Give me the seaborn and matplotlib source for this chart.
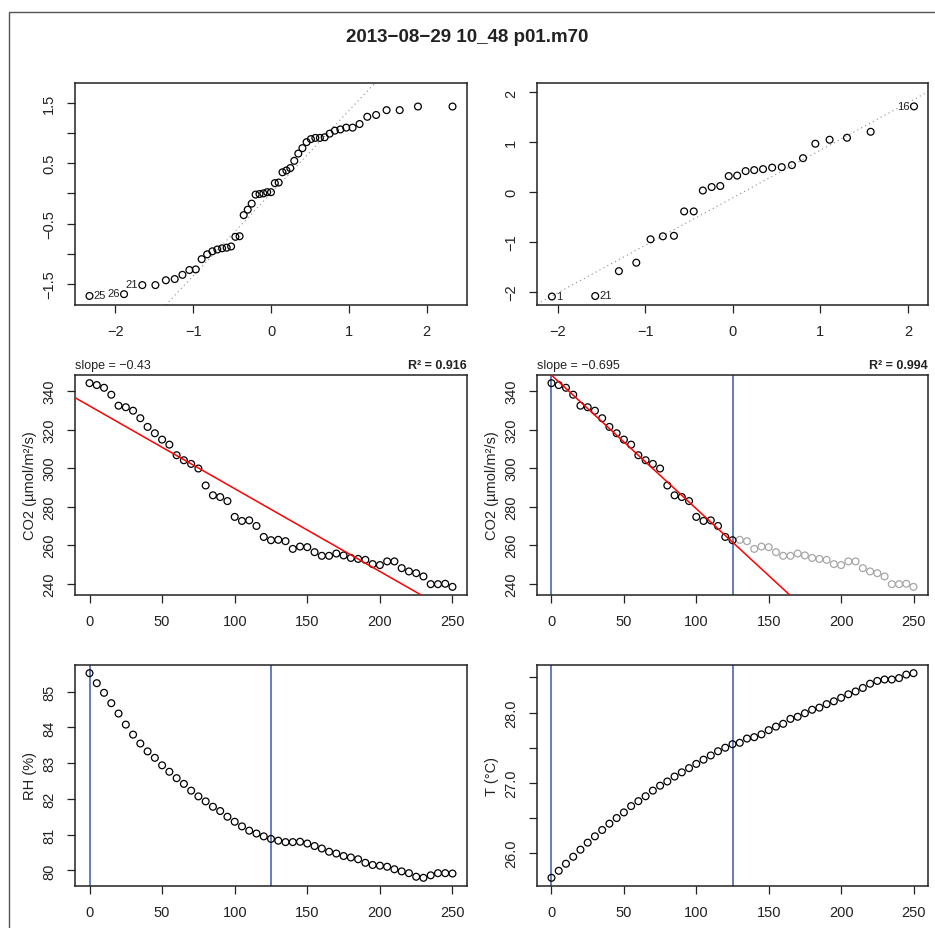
import numpy as np
import pandas as pd
import matplotlib
matplotlib.use("Agg")
import matplotlib.pyplot as plt
import seaborn as sns
from statistics import NormalDist
from matplotlib.patches import Rectangle

# ---------------- data ----------------
title = "2013\u221208\u221229 10_48 p01.m70"

time_s = [0, 5, 10, 15, 20, 25, 30, 35, 40, 45, 50, 55, 60, 65, 70, 75, 80, 85, 90, 95,
          100, 105, 110, 115, 120, 125, 130, 135, 140, 145, 150, 155, 160, 165, 170, 175,
          180, 185, 190, 195, 200, 205, 210, 215, 220, 225, 230, 235, 240, 245, 250]

co2 = [344.1, 343.1, 341.7, 338.1, 332.4, 331.6, 329.8, 325.9, 321.4, 318.1,
       314.8, 312.2, 306.7, 304.1, 302.2, 299.8, 291.0, 285.9, 285.0, 282.9,
       274.7, 272.6, 272.9, 270.0, 264.3, 262.6, 262.8, 262.1, 258.1, 259.3,
       259.0, 256.4, 254.5, 254.5, 255.7, 254.7, 253.4, 252.9, 252.4, 250.2,
       249.7, 251.6, 251.6, 248.1, 246.4, 245.5, 243.8, 239.8, 239.8, 240.0, 238.4]

rh = [85.52, 85.24, 84.97, 84.68, 84.39, 84.08, 83.80, 83.55, 83.33, 83.15,
      82.94, 82.76, 82.58, 82.42, 82.23, 82.07, 81.93, 81.78, 81.66, 81.50,
      81.36, 81.23, 81.11, 81.03, 80.95, 80.88, 80.83, 80.79, 80.79, 80.80,
      80.75, 80.68, 80.61, 80.52, 80.47, 80.40, 80.36, 80.31, 80.21, 80.15,
      80.13, 80.10, 80.03, 79.97, 79.92, 79.82, 79.79, 79.86, 79.92, 79.92, 79.91]

temp = [25.65, 25.75, 25.85, 25.95, 26.05, 26.15, 26.24, 26.33, 26.42, 26.50,
        26.58, 26.67, 26.74, 26.81, 26.89, 26.96, 27.02, 27.09, 27.15, 27.21,
        27.27, 27.33, 27.39, 27.45, 27.50, 27.55, 27.57, 27.63, 27.65, 27.69,
        27.75, 27.80, 27.84, 27.91, 27.94, 27.99, 28.04, 28.07, 28.12, 28.16,
        28.21, 28.26, 28.30, 28.35, 28.41, 28.45, 28.47, 28.47, 28.49, 28.54, 28.56]

window = [0, 125]

# sorted standardized residuals (QQ plots)
qq_all = [-1.70, -1.67, -1.52, -1.52, -1.44, -1.42, -1.35, -1.27, -1.26, -1.09,
          -1.01, -0.96, -0.93, -0.91, -0.90, -0.88, -0.72, -0.71, -0.36, -0.27,
          -0.17, -0.02, -0.01, 0.00, 0.02, 0.02, 0.17, 0.18, 0.35, 0.38,
          0.42, 0.54, 0.66, 0.75, 0.85, 0.90, 0.92, 0.92, 0.93, 0.99,
          1.04, 1.06, 1.09, 1.09, 1.15, 1.27, 1.30, 1.38, 1.38, 1.44, 1.44]
qq_all_labels = {0: "25", 1: "26", 2: "21"}
qq_all_label_right = {0: True, 1: False, 2: False}

qq_win = [-2.10, -2.09, -1.59, -1.42, -0.95, -0.89, -0.88, -0.39, -0.39, 0.03,
          0.10, 0.12, 0.32, 0.33, 0.42, 0.44, 0.46, 0.49, 0.50, 0.54,
          0.68, 0.97, 1.05, 1.09, 1.21, 1.72]
qq_win_labels = {0: "1", 1: "21", 25: "16"}
qq_win_label_right = {0: True, 1: True, 25: False}

slope_texts = ["slope = \u22120.43", "slope = \u22120.695"]
r2_texts = ["R\u00b2 = 0.916", "R\u00b2 = 0.994"]
co2_label = "CO2 (\u00b5mol/m\u00b2/s)"
rh_label = "RH (%)"
t_label = "T (\u00b0C)"

# ---------------- style ----------------
sns.set_theme(style="white")
FONT = ["Liberation Sans", "DejaVu Sans"]
plt.rcParams["font.family"] = FONT
plt.rcParams["axes.unicode_minus"] = True
DARK = "#222222"
BLUE = "#4a66b4"
GREY = "#a6a6a6"

fig = plt.figure(figsize=(9.35, 9.29), dpi=100)
W, H = 935.0, 929.0


def add_ax(l, t, r, b):
    return fig.add_axes([l / W, 1 - b / H, (r - l) / W, (b - t) / H])


ax_q1 = add_ax(75, 84, 467, 306)
ax_q2 = add_ax(537, 84, 928, 306)
ax_c1 = add_ax(75, 376, 467, 596)
ax_c2 = add_ax(537, 376, 928, 596)
ax_rh = add_ax(75, 666, 467, 887)
ax_t = add_ax(537, 666, 928, 887)


def style_ax(ax, xticks, xlabels, yticks, ylabels):
    ax.set_facecolor("white")
    for s in ax.spines.values():
        s.set_visible(True)
        s.set_color(DARK)
        s.set_linewidth(1.1)
    ax.set_xticks(xticks)
    ax.set_xticklabels(xlabels)
    ax.set_yticks(yticks)
    ax.set_yticklabels(ylabels, rotation=90, va="center")
    ax.tick_params(axis="both", which="both", direction="out", length=5.5,
                   width=0.9, color=DARK, labelsize=10.5, labelcolor=DARK, pad=8,
                   bottom=True, left=True, top=False, right=False)
    ax.grid(False)


def pad_lim(vals, f=0.04):
    lo, hi = min(vals), max(vals)
    d = (hi - lo) * f
    return lo - d, hi + d


def circles(ax, x, y, color="black"):
    sns.scatterplot(x=x, y=y, ax=ax, marker="o", s=24, facecolor="none",
                    edgecolor=color, linewidth=0.9, legend=False, zorder=3)


def mlabel(v):
    return f"{v:g}".replace("-", "\u2212")


# ---------------- QQ plots ----------------
def qq_panel(ax, vals, labels, label_right, xlim, ylim, yticks, ylabs):
    n = len(vals)
    nd = NormalDist()
    theo = [nd.inv_cdf((i + 0.5) / n) for i in range(n)]
    q1, q3 = np.quantile(vals, [0.25, 0.75])
    t1, t3 = nd.inv_cdf(0.25), nd.inv_cdf(0.75)
    slope = (q3 - q1) / (t3 - t1)
    icpt = q1 - slope * t1
    ax.axline((0, icpt), slope=slope, color="#8c8c8c", lw=0.8,
              linestyle=(0, (1, 3)), zorder=2)
    circles(ax, theo, vals)
    for idx, txt in labels.items():
        right = label_right[idx]
        ax.annotate(txt, (theo[idx], vals[idx]), xytext=(3.2 if right else -3.2, 0.5),
                    textcoords="offset points", ha="left" if right else "right",
                    va="center", fontsize=8, color=DARK)
    ax.set_xlim(*xlim)
    ax.set_ylim(*ylim)
    style_ax(ax, [-2, -1, 0, 1, 2], [mlabel(v) for v in [-2, -1, 0, 1, 2]],
             yticks, ylabs)
    ax.set_xlabel("")
    ax.set_ylabel("")


qq_panel(ax_q1, qq_all, qq_all_labels, qq_all_label_right, (-2.52, 2.52), (-1.85, 1.83),
         [-1.5, -1.0, -0.5, 0.0, 0.5, 1.0, 1.5],
         ["\u22121.5", "", "\u22120.5", "", "0.5", "", "1.5"])
qq_panel(ax_q2, qq_win, qq_win_labels, qq_win_label_right, (-2.24, 2.23), (-2.27, 2.19),
         [-2, -1, 0, 1, 2], [mlabel(v) for v in [-2, -1, 0, 1, 2]])

# ---------------- CO2 panels ----------------
df = pd.DataFrame({"time": time_s, "co2": co2, "rh": rh, "temp": temp})
in_win = (df["time"] >= window[0]) & (df["time"] <= window[1])

xt = [0, 50, 100, 150, 200, 250]
xl = [str(v) for v in xt]
co2_ticks = [240, 260, 280, 300, 320, 340]

for k, ax in enumerate([ax_c1, ax_c2]):
    if k == 0:
        m, b = np.polyfit(df["time"], df["co2"], 1)
        circles(ax, df["time"], df["co2"])
    else:
        m, b = np.polyfit(df.loc[in_win, "time"], df.loc[in_win, "co2"], 1)
        circles(ax, df.loc[~in_win, "time"], df.loc[~in_win, "co2"], GREY)
        circles(ax, df.loc[in_win, "time"], df.loc[in_win, "co2"])
        for v in window:
            ax.axvline(v, color=BLUE, lw=1.2, zorder=2)
    ax.axline((0, b), slope=m, color="red", lw=1.1, zorder=4)
    ax.set_xlim(*pad_lim(time_s))
    ax.set_ylim(*pad_lim(co2))
    style_ax(ax, xt, xl, co2_ticks, [str(v) for v in co2_ticks])
    ax.set_xlabel("")
    ax.set_ylabel(co2_label, fontsize=10.5, color=DARK, labelpad=4)
    ax.annotate(slope_texts[k], (0, 1), xycoords="axes fraction", xytext=(0, 5),
                textcoords="offset points", ha="left", va="baseline",
                fontsize=9, color=DARK)
    ax.annotate(r2_texts[k], (1, 1), xycoords="axes fraction", xytext=(0, 5),
                textcoords="offset points", ha="right", va="baseline",
                fontsize=9, color=DARK, fontweight="bold")

# ---------------- RH and T panels ----------------
for ax, col, lab, yt, yl in [
    (ax_rh, "rh", rh_label, [80, 81, 82, 83, 84, 85], ["80", "81", "82", "83", "84", "85"]),
    (ax_t, "temp", t_label, [26.0, 26.5, 27.0, 27.5, 28.0, 28.5],
     ["26.0", "", "27.0", "", "28.0", ""]),
]:
    for v in window:
        ax.axvline(v, color=BLUE, lw=1.2, zorder=2)
    circles(ax, df["time"], df[col])
    ax.set_xlim(*pad_lim(time_s))
    ax.set_ylim(*pad_lim(df[col].tolist()))
    style_ax(ax, xt, xl, yt, yl)
    ax.set_xlabel("")
    ax.set_ylabel(lab, fontsize=10.5, color=DARK, labelpad=4)

# ---------------- title and outer frame ----------------
fig.text(0.5, 1 - 38 / H, title, ha="center", va="center", fontsize=13.5,
         fontweight="bold", color=DARK)
fig.add_artist(Rectangle((9 / W, -0.05), 1.2, 1.05 - 13 / H, fill=False,
                         edgecolor="#555555", linewidth=1.0,
                         transform=fig.transFigure))

fig.savefig("out.png", dpi=100, facecolor="white")
